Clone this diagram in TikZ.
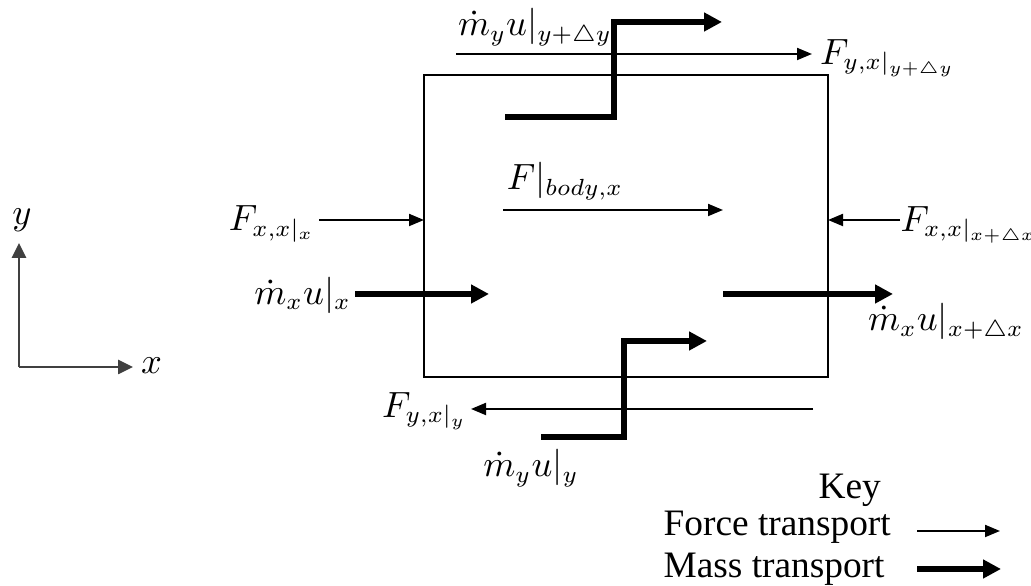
\documentclass[tikz,border=0pt]{standalone}
\usepackage{amsmath,amssymb}
\usepackage{fontspec}
\newfontfamily\keyfont{Liberation Serif}
\usetikzlibrary{arrows.meta}

\begin{document}
\begin{tikzpicture}[x=0.3pt,y=-0.3pt,
  force/.style={line width=0.6pt,-{Triangle[length=4.5pt,width=3.6pt]}},
  mass/.style={line width=1.8pt,-{Triangle[length=5.4pt,width=5.4pt]}},
  axis/.style={line width=0.8pt,black!75,-{Triangle[length=4.5pt,width=4.2pt]}},
  lbl/.style={font=\fontsize{10.5}{12}\selectfont,inner sep=1pt},
  keytxt/.style={font=\keyfont\fontsize{11.2}{13}\selectfont,inner sep=0pt}]
\useasboundingbox (0,0) rectangle (1031,586);
% control volume
\coordinate (cvA) at (424,75);
\coordinate (cvB) at (828,377);
\draw[line width=0.6pt] (cvA) rectangle (cvB);
% axes
\coordinate (O) at (19,367);
\coordinate (yend) at (19,243);
\coordinate (xend) at (133,367);
\draw[axis] (O) -- (yend);
\draw[axis] (O) -- (xend);
\node[lbl] (ylab) at (22,220) {$y$};
\node[lbl,anchor=west] (xlab) at (137,366) {$x$};
% top face
\coordinate (ftS) at (456,54);
\coordinate (ftE) at (812,54);
\draw[force] (ftS) -- (ftE);
\node[lbl,anchor=west] (Fyt) at (816,58) {$F_{y,x|_{y+\triangle y}}$};
\coordinate (mt0) at (505,117);
\coordinate (mtv) at (614,70);
\coordinate (mt1) at (722,22);
\draw[mass] (mt0) -| (mtv) |- (mt1);
\node[lbl] (mdyt) at (535,27) {$\dot m_y u|_{y+\triangle y}$};
% body force
\coordinate (fbS) at (503,210);
\coordinate (fbE) at (723,210);
\draw[force] (fbS) -- (fbE);
\node[lbl] (Fb) at (565,181) {$F|_{body,x}$};
% left face
\node[lbl,anchor=east] (Fxl) at (319,224) {$F_{x,x|_x}$};
\coordinate (fl) at (424,220);
\draw[force] (Fxl.east |- fl) -- (fl);
\node[lbl,anchor=east] (mxl) at (355,295) {$\dot m_x u|_x$};
\coordinate (ml) at (489,294);
\draw[mass] (mxl.east |- ml) -- (ml);
% right face
\coordinate (fr) at (828,220);
\node[lbl,anchor=west,inner sep=0pt] (Fxr) at (900,225) {$F_{x,x|_{x+\triangle x}}$};
\draw[force] (Fxr.west |- fr) -- (fr);
\coordinate (mrS) at (723,294);
\coordinate (mrE) at (893,294);
\draw[mass] (mrS) -- (mrE);
\node[lbl] (mxr) at (946,322) {$\dot m_x u|_{x+\triangle x}$};
% bottom face
\coordinate (fbot) at (813,409);
\node[lbl,anchor=east] (Fyb) at (471,411) {$F_{y,x|_y}$};
\draw[force] (fbot) -- (Fyb.east |- fbot);
\coordinate (mb0) at (541,437);
\coordinate (mbv) at (624,390);
\coordinate (mb1) at (707,341);
\draw[mass] (mb0) -| (mbv) |- (mb1);
\node[lbl] (mdyb) at (531,468) {$\dot m_y u|_y$};
% key
\node[keytxt,anchor=base west] (key) at (818,499) {Key};
\node[keytxt,anchor=base west] (kf) at (663,536) {Force transport};
\node[keytxt,anchor=base west] (km) at (663,578) {Mass transport};
\coordinate (kfS) at (917,531);
\coordinate (kfE) at (1000,531);
\coordinate (kmS) at (917,569);
\coordinate (kmE) at (1001,569);
\draw[force] (kfS) -- (kfE);
\draw[mass] (kmS) -- (kmE);
\end{tikzpicture}
\end{document}
